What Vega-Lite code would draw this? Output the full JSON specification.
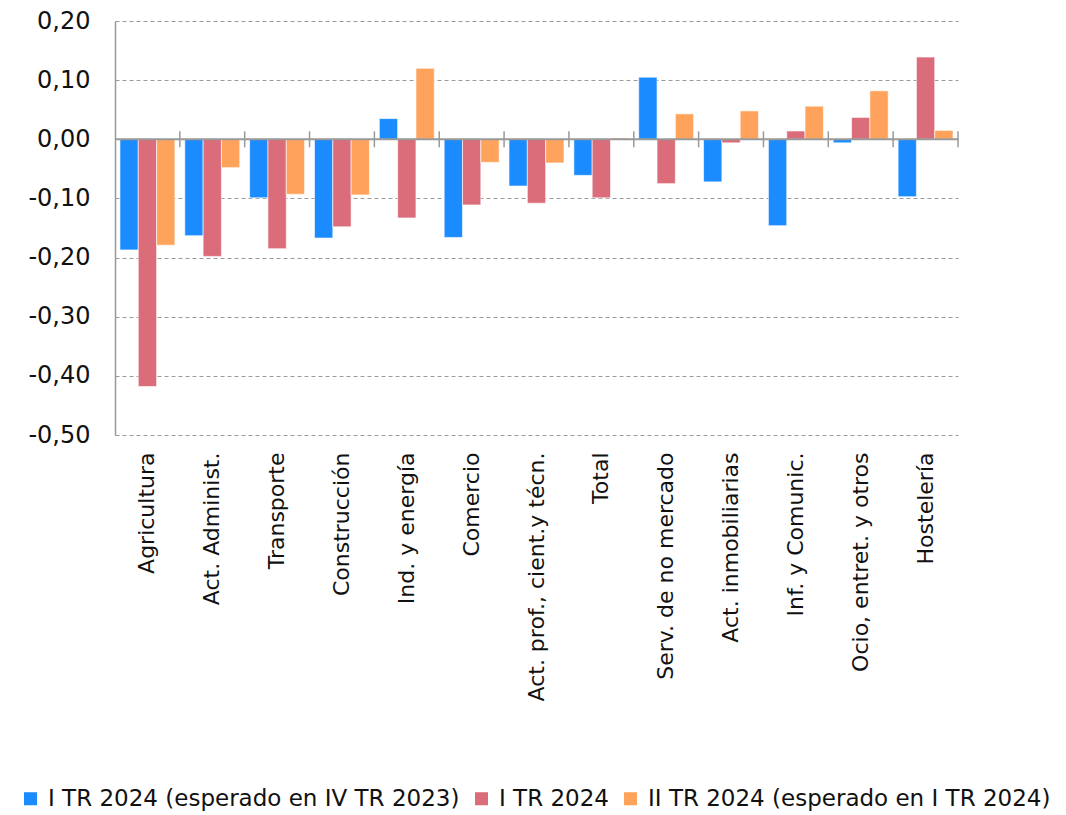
{
  "$schema": "https://vega.github.io/schema/vega-lite/v6.json",
  "width": 843,
  "height": 414,
  "autosize": "none",
  "padding": {"left": 115, "top": 21, "right": 108, "bottom": 380},
  "background": "white",
  "config": {
    "view": {"stroke": null},
    "font": "DejaVu Sans",
    "axis": {"labelFont": "DejaVu Sans", "labelColor": "#111111"},
    "legend": {"labelFont": "DejaVu Sans", "labelColor": "#111111"}
  },
  "data": {
    "values": [
      {"sector": "Agricultura", "serie": "I TR 2024 (esperado en IV TR 2023)", "valor": -0.187},
      {"sector": "Agricultura", "serie": "I TR 2024", "valor": -0.418},
      {"sector": "Agricultura", "serie": "II TR 2024 (esperado en I TR 2024)", "valor": -0.179},
      {"sector": "Act. Administ.", "serie": "I TR 2024 (esperado en IV TR 2023)", "valor": -0.163},
      {"sector": "Act. Administ.", "serie": "I TR 2024", "valor": -0.198},
      {"sector": "Act. Administ.", "serie": "II TR 2024 (esperado en I TR 2024)", "valor": -0.048},
      {"sector": "Transporte", "serie": "I TR 2024 (esperado en IV TR 2023)", "valor": -0.099},
      {"sector": "Transporte", "serie": "I TR 2024", "valor": -0.185},
      {"sector": "Transporte", "serie": "II TR 2024 (esperado en I TR 2024)", "valor": -0.093},
      {"sector": "Construcción", "serie": "I TR 2024 (esperado en IV TR 2023)", "valor": -0.167},
      {"sector": "Construcción", "serie": "I TR 2024", "valor": -0.148},
      {"sector": "Construcción", "serie": "II TR 2024 (esperado en I TR 2024)", "valor": -0.094},
      {"sector": "Ind. y energía", "serie": "I TR 2024 (esperado en IV TR 2023)", "valor": 0.035},
      {"sector": "Ind. y energía", "serie": "I TR 2024", "valor": -0.133},
      {"sector": "Ind. y energía", "serie": "II TR 2024 (esperado en I TR 2024)", "valor": 0.120},
      {"sector": "Comercio", "serie": "I TR 2024 (esperado en IV TR 2023)", "valor": -0.166},
      {"sector": "Comercio", "serie": "I TR 2024", "valor": -0.111},
      {"sector": "Comercio", "serie": "II TR 2024 (esperado en I TR 2024)", "valor": -0.039},
      {"sector": "Act. prof., cient.y técn.", "serie": "I TR 2024 (esperado en IV TR 2023)", "valor": -0.079},
      {"sector": "Act. prof., cient.y técn.", "serie": "I TR 2024", "valor": -0.108},
      {"sector": "Act. prof., cient.y técn.", "serie": "II TR 2024 (esperado en I TR 2024)", "valor": -0.040},
      {"sector": "Total", "serie": "I TR 2024 (esperado en IV TR 2023)", "valor": -0.061},
      {"sector": "Total", "serie": "I TR 2024", "valor": -0.099},
      {"sector": "Total", "serie": "II TR 2024 (esperado en I TR 2024)", "valor": 0.002},
      {"sector": "Serv. de no mercado", "serie": "I TR 2024 (esperado en IV TR 2023)", "valor": 0.105},
      {"sector": "Serv. de no mercado", "serie": "I TR 2024", "valor": -0.075},
      {"sector": "Serv. de no mercado", "serie": "II TR 2024 (esperado en I TR 2024)", "valor": 0.043},
      {"sector": "Act. inmobiliarias", "serie": "I TR 2024 (esperado en IV TR 2023)", "valor": -0.072},
      {"sector": "Act. inmobiliarias", "serie": "I TR 2024", "valor": -0.006},
      {"sector": "Act. inmobiliarias", "serie": "II TR 2024 (esperado en I TR 2024)", "valor": 0.048},
      {"sector": "Inf. y Comunic.", "serie": "I TR 2024 (esperado en IV TR 2023)", "valor": -0.146},
      {"sector": "Inf. y Comunic.", "serie": "I TR 2024", "valor": 0.014},
      {"sector": "Inf. y Comunic.", "serie": "II TR 2024 (esperado en I TR 2024)", "valor": 0.056},
      {"sector": "Ocio, entret. y otros", "serie": "I TR 2024 (esperado en IV TR 2023)", "valor": -0.006},
      {"sector": "Ocio, entret. y otros", "serie": "I TR 2024", "valor": 0.037},
      {"sector": "Ocio, entret. y otros", "serie": "II TR 2024 (esperado en I TR 2024)", "valor": 0.082},
      {"sector": "Hostelería", "serie": "I TR 2024 (esperado en IV TR 2023)", "valor": -0.097},
      {"sector": "Hostelería", "serie": "I TR 2024", "valor": 0.139},
      {"sector": "Hostelería", "serie": "II TR 2024 (esperado en I TR 2024)", "valor": 0.015}
    ]
  },
  "layer": [
    {
      "mark": {"type": "bar", "stroke": "white", "strokeOpacity": 0.6, "strokeWidth": 1},
      "encoding": {
        "x": {
          "field": "sector",
          "type": "nominal",
          "sort": ["Agricultura", "Act. Administ.", "Transporte", "Construcción", "Ind. y energía", "Comercio", "Act. prof., cient.y técn.", "Total", "Serv. de no mercado", "Act. inmobiliarias", "Inf. y Comunic.", "Ocio, entret. y otros", "Hostelería"],
          "scale": {"paddingInner": 0, "paddingOuter": 0},
          "axis": {
            "title": null,
            "labelAngle": 270,
            "labelAlign": "right",
            "labelBaseline": "middle",
            "labelFontSize": 22,
            "labelPadding": 17,
            "ticks": false,
            "domain": false,
            "grid": false,
            "labelLimit": 400
          }
        },
        "xOffset": {
          "field": "serie",
          "type": "nominal",
          "sort": ["I TR 2024 (esperado en IV TR 2023)", "I TR 2024", "II TR 2024 (esperado en I TR 2024)"],
          "scale": {"paddingInner": 0, "paddingOuter": 0.27}
        },
        "y": {
          "field": "valor",
          "type": "quantitative",
          "scale": {"domain": [-0.5, 0.2], "nice": false, "zero": false},
          "axis": {
            "title": null,
            "values": [-0.5, -0.4, -0.3, -0.2, -0.1, 0, 0.1, 0.2],
            "labelExpr": "replace(replace(format(datum.value, '.2f'), '.', ','), '\u2212', '-')",
            "labelFontSize": 24,
            "labelPadding": 25,
            "ticks": false,
            "domain": true,
            "domainColor": "#999999",
            "domainWidth": 1.5,
            "grid": true,
            "gridColor": "#9a9a9a",
            "gridDash": [4, 3],
            "gridWidth": 1
          }
        },
        "color": {
          "field": "serie",
          "type": "nominal",
          "scale": {
            "domain": ["I TR 2024 (esperado en IV TR 2023)", "I TR 2024", "II TR 2024 (esperado en I TR 2024)"],
            "range": ["#1b8cff", "#db6c7a", "#ffa35c"]
          },
          "legend": {
            "title": null,
            "orient": "none",
            "legendX": -96,
            "legendY": 766,
            "direction": "horizontal",
            "symbolType": "square",
            "symbolSize": 170,
            "symbolStrokeWidth": 0,
            "labelFontSize": 23,
            "labelOffset": 6,
            "columnPadding": 10,
            "labelLimit": 600
          }
        }
      }
    },
    {
      "data": {"values": [{"z": 0}]},
      "mark": {"type": "rule", "color": "#999999", "strokeWidth": 2},
      "encoding": {"y": {"field": "z", "type": "quantitative"}}
    },
    {
      "transform": [{"filter": "datum.serie === 'I TR 2024'"}],
      "mark": {"type": "rule", "color": "#999999", "strokeWidth": 1.5},
      "encoding": {
        "x": {"field": "sector", "type": "nominal", "bandPosition": 1, "sort": ["Agricultura", "Act. Administ.", "Transporte", "Construcción", "Ind. y energía", "Comercio", "Act. prof., cient.y técn.", "Total", "Serv. de no mercado", "Act. inmobiliarias", "Inf. y Comunic.", "Ocio, entret. y otros", "Hostelería"]},
        "y": {"datum": -0.0135},
        "y2": {"datum": 0.0135}
      }
    }
  ]
}
